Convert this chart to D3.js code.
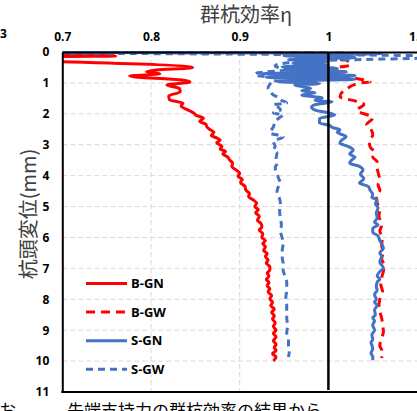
<!DOCTYPE html>
<html><head><meta charset="utf-8">
<script src="https://cdn.jsdelivr.net/npm/d3@7"></script>
<style>
body{margin:0;background:#fff;}
svg{display:block;}
</style></head>
<body>
<svg id="c" width="417" height="411"></svg>
<script>
const xTicks = [0.7, 0.8, 0.9, 1, 1.1];
const yTicks = [0,1,2,3,4,5,6,7,8,9,10,11];
const seriesNames = ["B-GN","B-GW","S-GN","S-GW"];

// [displacement (mm), group efficiency]
const bGN = [[0.0,0.55],[0.13,0.76],[0.17,0.6],[0.5,0.847],[0.58,0.806],[0.64,0.795],[0.7,0.81],[0.78,0.776],[0.9,0.833],[0.97,0.844],[1.07,0.818],[1.18,0.832],[1.29,0.833],[1.42,0.82],[1.55,0.821],[1.65,0.836],[1.75,0.834],[1.88,0.842],[1.97,0.848],[2.05,0.851],[2.14,0.859],[2.25,0.855],[2.34,0.862],[2.42,0.863],[2.52,0.867],[2.6,0.871],[2.7,0.868],[2.78,0.874],[2.85,0.878],[2.94,0.874],[3.05,0.88],[3.14,0.878],[3.22,0.884],[3.3,0.881],[3.39,0.886],[3.5,0.889],[3.6,0.892],[3.7,0.891],[3.8,0.895],[3.92,0.9],[4.02,0.898],[4.12,0.903],[4.22,0.901],[4.35,0.906],[4.47,0.907],[4.58,0.911],[4.68,0.91],[4.78,0.915],[4.89,0.919],[5.0,0.917],[5.1,0.921],[5.2,0.918],[5.32,0.922],[5.44,0.92],[5.55,0.924],[5.66,0.925],[5.76,0.922],[5.88,0.926],[6.0,0.925],[6.1,0.929],[6.2,0.926],[6.3,0.929],[6.42,0.927],[6.52,0.931],[6.62,0.929],[6.73,0.932],[6.83,0.93],[6.95,0.934],[7.05,0.934],[7.15,0.931],[7.25,0.933],[7.36,0.93],[7.46,0.933],[7.56,0.931],[7.66,0.934],[7.76,0.932],[7.88,0.936],[7.98,0.934],[8.1,0.937],[8.2,0.935],[8.32,0.939],[8.42,0.936],[8.54,0.939],[8.64,0.937],[8.76,0.94],[8.88,0.938],[9.0,0.941],[9.1,0.938],[9.22,0.941],[9.34,0.938],[9.46,0.941],[9.56,0.939],[9.66,0.941],[9.76,0.937],[9.86,0.941],[10.0,0.938]];

const bGW = [[0.0,0.5],[0.05,1.05],[0.17,0.96],[0.26,1.02],[0.42,1.025],[0.55,1.0],[0.68,1.02],[0.74,1.005],[0.85,1.03],[0.97,1.047],[1.0,1.036],[1.2,1.02],[1.45,1.013],[1.6,1.032],[1.7,1.04],[1.88,1.032],[2.13,1.05],[2.36,1.043],[2.5,1.048],[2.69,1.05],[2.85,1.046],[3.07,1.047],[3.25,1.052],[3.4,1.05],[3.55,1.055],[3.72,1.055],[3.9,1.056],[4.14,1.058],[4.3,1.056],[4.47,1.058],[4.65,1.054],[4.89,1.055],[5.1,1.058],[5.3,1.057],[5.6,1.06],[5.8,1.058],[6.0,1.061],[6.25,1.06],[6.47,1.062],[6.7,1.06],[6.9,1.063],[7.1,1.062],[7.3,1.06],[7.5,1.059],[7.75,1.061],[8.0,1.058],[8.2,1.057],[8.4,1.058],[8.6,1.06],[8.8,1.061],[9.05,1.062],[9.25,1.06],[9.5,1.058],[9.7,1.061],[9.9,1.06]];

const sGN = [[0.0,0.6],[0.05,1.06],[0.12,0.95],[0.18,1.03],[0.25,0.955],[0.3,1.0],[0.36,0.96],[0.42,1.0],[0.48,0.948],[0.53,1.01],[0.58,0.95],[0.64,1.02],[0.7,0.925],[0.76,1.03],[0.82,0.93],[0.88,1.03],[0.95,0.94],[1.02,0.99],[1.07,0.962],[1.17,0.98],[1.25,0.97],[1.32,0.985],[1.39,0.97],[1.49,0.993],[1.56,0.985],[1.62,1.004],[1.7,0.985],[1.78,0.981],[1.88,0.985],[1.98,1.002],[2.04,1.007],[2.15,0.99],[2.3,0.99],[2.36,1.0],[2.45,1.005],[2.52,1.013],[2.6,1.01],[2.74,1.02],[2.85,1.015],[2.95,1.013],[3.05,1.022],[3.17,1.028],[3.3,1.024],[3.4,1.03],[3.5,1.026],[3.6,1.024],[3.7,1.035],[3.82,1.039],[3.95,1.036],[4.1,1.04],[4.24,1.035],[4.35,1.045],[4.47,1.047],[4.6,1.05],[4.7,1.049],[4.79,1.055],[4.9,1.053],[5.05,1.056],[5.2,1.054],[5.37,1.055],[5.5,1.052],[5.6,1.056],[5.7,1.05],[5.83,1.05],[5.95,1.056],[6.1,1.058],[6.2,1.06],[6.35,1.062],[6.5,1.058],[6.6,1.06],[6.8,1.058],[6.99,1.062],[7.1,1.058],[7.25,1.055],[7.35,1.058],[7.44,1.055],[7.6,1.054],[7.7,1.055],[7.85,1.052],[8.0,1.054],[8.1,1.052],[8.19,1.055],[8.35,1.052],[8.5,1.053],[8.6,1.05],[8.7,1.052],[8.83,1.05],[9.0,1.052],[9.15,1.049],[9.3,1.05],[9.4,1.048],[9.48,1.049],[9.6,1.05],[9.75,1.048],[9.85,1.05],[9.97,1.05]];

const sGW = [[0.02,0.6],[0.15,1.15],[0.3,0.97],[0.45,0.94],[0.58,0.951],[0.68,0.919],[0.74,0.917],[0.85,0.94],[1.0,0.935],[1.17,0.932],[1.3,0.935],[1.39,0.938],[1.46,0.943],[1.55,0.946],[1.65,0.953],[1.71,0.938],[1.78,0.943],[1.88,0.946],[1.97,0.938],[2.04,0.949],[2.1,0.946],[2.25,0.94],[2.42,0.938],[2.62,0.934],[2.74,0.949],[2.9,0.938],[3.05,0.94],[3.17,0.938],[3.27,0.942],[3.45,0.941],[3.6,0.942],[3.75,0.94],[3.92,0.942],[4.1,0.944],[4.24,0.946],[4.4,0.943],[4.56,0.942],[4.75,0.945],[4.95,0.946],[5.15,0.945],[5.37,0.946],[5.6,0.947],[5.8,0.946],[6.02,0.948],[6.2,0.949],[6.4,0.948],[6.67,0.948],[6.83,0.949],[7.05,0.949],[7.25,0.951],[7.44,0.953],[7.7,0.953],[7.95,0.952],[8.19,0.953],[8.35,0.953],[8.6,0.953],[8.85,0.954],[9.09,0.953],[9.3,0.955],[9.48,0.955],[9.65,0.956],[9.87,0.955]];

const seriesData = [bGN, bGW, sGN, sGW];
const seriesColors = ["#FF0000","#FF0000","#4472C4","#4472C4"];
const seriesDash = [null,"9,6",null,"7,5"];

const svg = d3.select("#c");
const x = d3.scaleLinear().domain([0.7,1.1]).range([62.3,417.1]);
const y = d3.scaleLinear().domain([0,11]).range([52,392]);

svg.append("defs").append("clipPath").attr("id","pc")
  .append("rect").attr("x",x(0.7)).attr("y",y(0)-1).attr("width",x(1.1)-x(0.7)+10).attr("height",y(11)-y(0)+1);

// grid
const g = svg.append("g");
g.selectAll(".vg").data([0.8,0.9]).join("line")
  .attr("x1",d=>x(d)).attr("x2",d=>x(d)).attr("y1",y(0)).attr("y2",y(11))
  .attr("stroke","#d9d9d9").attr("stroke-width",1).attr("stroke-dasharray","5,3");
g.selectAll(".hg").data(yTicks.filter(d=>d>0&&d<11)).join("line")
  .attr("x1",x(0.7)).attr("x2",417).attr("y1",d=>y(d)).attr("y2",d=>y(d))
  .attr("stroke","#d9d9d9").attr("stroke-width",1).attr("stroke-dasharray","5,3");

// series
const line = d3.line().x(d=>x(d[1])).y(d=>y(d[0])).curve(d3.curveMonotoneY);
const sg = svg.append("g").attr("clip-path","url(#pc)");
seriesData.forEach((s,i)=>{
  sg.append("path").attr("d",line(s)).attr("fill","none")
    .attr("stroke",seriesColors[i]).attr("stroke-width",3)
    .attr("stroke-dasharray",seriesDash[i]).attr("stroke-linejoin","round");
});

// axes
const xa = svg.append("g").attr("transform",`translate(0,${y(0)})`)
  .call(d3.axisTop(x).tickValues(xTicks).tickSize(0).tickPadding(11).tickFormat(d=>d===1?"1":d3.format(".1f")(d)));
const ya = svg.append("g").attr("transform",`translate(${x(0.7)},0)`)
  .call(d3.axisLeft(y).tickValues(yTicks).tickSize(0).tickPadding(13));
[xa,ya].forEach(a=>{
  a.select(".domain").attr("stroke","#000").attr("stroke-width",2);
  a.selectAll("text").attr("font-family","Open Sans").attr("font-weight","bold")
    .attr("font-size",12).attr("fill","#000");
});
svg.append("line").attr("x1",x(0.7)-1).attr("x2",417).attr("y1",y(11)).attr("y2",y(11))
  .attr("stroke","#000").attr("stroke-width",2);
svg.append("line").attr("x1",x(1)).attr("x2",x(1)).attr("y1",y(0)).attr("y2",y(11)-2)
  .attr("stroke","#000").attr("stroke-width",2.5);

// titles
svg.append("text").attr("x",246).attr("y",22).attr("text-anchor","middle")
  .attr("font-family","Noto Sans CJK JP").attr("font-size",20).attr("fill","#404040").text("群杭効率η");
svg.append("text").attr("transform","translate(36,214) rotate(-90)").attr("text-anchor","middle")
  .attr("font-family","Noto Sans CJK JP").attr("font-size",20).attr("fill","#404040").text("杭頭変位(mm)");

// legend
const leg = svg.append("g");
seriesNames.forEach((n,i)=>{
  const ly = 283.5 + i*28.6;
  leg.append("line").attr("x1",86).attr("x2",127).attr("y1",ly).attr("y2",ly)
    .attr("stroke",seriesColors[i]).attr("stroke-width",3).attr("stroke-dasharray",seriesDash[i]);
  leg.append("text").attr("x",131).attr("y",ly).attr("dy","0.35em")
    .attr("font-family","Open Sans").attr("font-weight","bold").attr("font-size",13).attr("fill","#000").text(n);
});

// fragments of surrounding page
svg.append("text").attr("x",0).attr("y",38).attr("font-family","Open Sans").attr("font-weight","bold")
  .attr("font-size",12).attr("fill","#000").text("3");
svg.append("text").attr("x",-1).attr("y",417).attr("font-family","Noto Sans CJK JP")
  .attr("font-size",17).attr("fill","#000").text("お");
svg.append("text").attr("x",67).attr("y",417).attr("font-family","Noto Sans CJK JP")
  .attr("font-size",17).attr("fill","#000").text("先端支持力の群杭効率の結果から");
</script>
</body></html>
